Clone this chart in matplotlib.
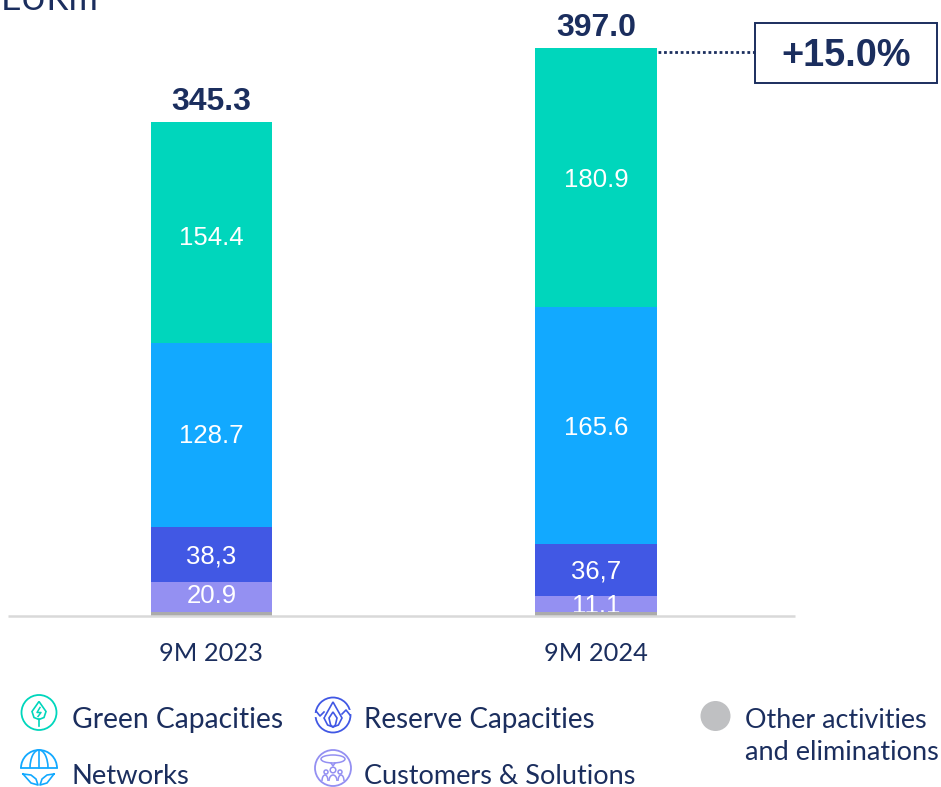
import matplotlib
matplotlib.use('Agg')
import matplotlib.pyplot as plt
from matplotlib.patches import Circle, Rectangle, Polygon, Arc, Ellipse

# data
periods = ['9M 2023', '9M 2024']
other = [3.0, 2.7]
customers = [20.9, 11.1]
reserve = [38.3, 36.7]
networks = [128.7, 165.6]
green = [154.4, 180.9]
totals = [345.3, 397.0]

customers_labels = ['20.9', '11.1']
reserve_labels = ['38,3', '36,7']
networks_labels = ['128.7', '165.6']
green_labels = ['154.4', '180.9']
growth_label = '+15.0%'

NAVY = '#1b2e5e'
GREEN = '#00d6bc'
BLUE = '#12a9ff'
DARK_BLUE = '#4158e4'
LAVENDER = '#9490f2'
GREY = '#ababab'
W, H = 941, 787
BAR_FONT = 'Liberation Sans'
LEGEND_FONT = 'Lato'

fig = plt.figure(figsize=(W / 100, H / 100), dpi=100)

# main axes, placed in pixels so the baseline sits at y=616
ax = fig.add_axes([8 / W, (H - 616) / H, 787 / W, 616 / H])
ax.set_xlim(-0.529, 1.5176)
ax.set_ylim(0, 616 / 1.4307)
ax.patch.set_alpha(0)
x = [0, 1]
bar_w = 0.315

# stacked bars, bottom up
bottom = [0, 0]
segments = [(other, GREY, None), (customers, LAVENDER, customers_labels),
            (reserve, DARK_BLUE, reserve_labels), (networks, BLUE, networks_labels),
            (green, GREEN, green_labels)]
label_shift = {'20.9': 2.2, '154.4': -1.8, '11.1': 0.2, '38,3': 0.2, '128.7': 0.7, '36,7': 0.7}
for vals, col, labels in segments:
    # grey strip stays over the small labels, they get cut at its edge
    z = 5 if labels is None else 2
    ax.bar(x, vals, bar_w, bottom=bottom, color=col, zorder=z)
    if labels is not None:
        for i in x:
            mid = bottom[i] + vals[i] / 2
            ax.text(i, mid + label_shift.get(labels[i], 0), labels[i], color='white', ha='center',
                    va='center_baseline', fontsize=18.5, family=BAR_FONT, zorder=3)
    bottom = [b + v for b, v in zip(bottom, vals)]

for i in x:
    ax.text(i, totals[i] + 3.6, f'{totals[i]:.1f}', color=NAVY, ha='center', va='bottom',
            fontsize=23, fontweight='bold', family=BAR_FONT)

ax.spines[['top', 'left', 'right']].set_visible(False)
ax.spines['bottom'].set_color('#d9d9d9')
ax.spines['bottom'].set_linewidth(1.8)
ax.spines['bottom'].set_capstyle('butt')
ax.spines['bottom'].set_zorder(6)
ax.set_yticks([])
ax.set_xticks(x)
ax.set_xticklabels(periods, color=NAVY, fontsize=18.3, family=LEGEND_FONT)
ax.tick_params(axis='x', length=0, pad=18.5)

# overlay in pixel coords for the callout, legend and unit
ov = fig.add_axes([0, 0, 1, 1])
ov.set_xlim(0, W)
ov.set_ylim(H, 0)
ov.axis('off')
ov.patch.set_alpha(0)

ov.plot([658, 755], [52, 52], color=NAVY, lw=2, ls=(0, (1, 1)))
ov.add_patch(Rectangle((755.5, 22.5), 182, 60, fc='white', ec=NAVY, lw=1.4))
ov.text(846.5, 56.5, growth_label, color=NAVY, ha='center', va='center', fontsize=27.3,
        fontweight='bold', family=BAR_FONT)
# unit is cut by the top edge in the reference too
ov.text(1, 10, 'EURm', color=NAVY, ha='left', va='baseline', fontsize=25.5, family=LEGEND_FONT)


def ring(cx, cy, col, r=17.5):
    ov.add_patch(Circle((cx, cy), r, fc='white', ec=col, lw=1.3))


def icon_green(cx, cy):
    ring(cx, cy, GREEN)
    ov.add_patch(Polygon([(cx, cy - 11), (cx + 7, cy - 1), (cx + 5, cy + 5), (cx, cy + 7),
                          (cx - 5, cy + 5), (cx - 7, cy - 1)], fc='none', ec=GREEN, lw=1.2))
    ov.plot([cx, cx], [cy + 6, cy + 13], color=GREEN, lw=1.2)
    ov.plot([cx + 1, cx - 2, cx + 2, cx - 1], [cy - 5, cy, cy, cy + 4], color=GREEN, lw=1.1)


def icon_reserve(cx, cy):
    ring(cx, cy, DARK_BLUE)
    ov.plot([cx - 19, cx - 11], [cy, cy], color='white', lw=3)
    ov.plot([cx + 11, cx + 19], [cy - 3, cy - 3], color='white', lw=3)
    ov.plot([cx - 17, cx - 13, cx - 9], [cy - 4, cy + 1, cy - 3], color=DARK_BLUE, lw=1.2)
    ov.plot([cx + 17, cx + 13, cx + 9], [cy, cy - 5, cy - 1], color=DARK_BLUE, lw=1.2)
    for w, t in [(9, 13), (4, 3)]:
        ov.add_patch(Polygon([(cx, cy - t), (cx + w, cy + 3), (cx + w * 0.6, cy + 10), (cx, cy + 12),
                              (cx - w * 0.6, cy + 10), (cx - w, cy + 3)], fc='none', ec=DARK_BLUE, lw=1.2))


def icon_networks(cx, cy):
    ov.add_patch(Arc((cx, cy), 36, 36, theta1=180, theta2=360, ec=BLUE, lw=1.3))
    ov.add_patch(Arc((cx, cy), 18, 36, theta1=180, theta2=360, ec=BLUE, lw=1.2))
    ov.plot([cx, cx], [cy - 18, cy], color=BLUE, lw=1.2)
    ov.plot([cx - 18, cx + 18], [cy, cy], color=BLUE, lw=1.3)
    ov.plot([cx - 16, cx - 8, cx - 3, cx - 1, cx - 8, cx - 16],
            [cy + 6, cy + 7, cy + 11, cy + 17, cy + 15, cy + 6], color=BLUE, lw=1.2)
    ov.plot([cx + 15, cx + 8, cx + 3, cx + 1, cx + 8, cx + 15],
            [cy + 6, cy + 7, cy + 11, cy + 17, cy + 15, cy + 6], color=BLUE, lw=1.2)


def icon_customers(cx, cy):
    ring(cx, cy, LAVENDER, r=18)
    ov.add_patch(Ellipse((cx, cy - 9), 24, 8, fc='none', ec=LAVENDER, lw=1.1))
    ov.plot([cx - 2, cx, cx + 2], [cy - 5, cy - 2, cy - 5], color=LAVENDER, lw=1.1)
    for dx, dy, r in [(-7, 4, 2), (0, 2, 2.8), (7, 4, 2)]:
        ov.add_patch(Circle((cx + dx, cy + dy), r, fc='none', ec=LAVENDER, lw=1.1))
    for dx, w in [(-8, 6), (0, 8), (8, 6)]:
        ov.add_patch(Arc((cx + dx, cy + 13), w, 12, theta1=180, theta2=360, ec=LAVENDER, lw=1.1))


icon_green(39, 712.5)
icon_reserve(333, 715)
icon_networks(39, 768)
icon_customers(333, 768)
ov.add_patch(Circle((715.5, 716), 15, fc='#bfc0c2', ec='none'))

legend_items = [('Green Capacities', 72, 720, 20.3), ('Networks', 72, 776, 19.7),
                ('Reserve Capacities', 364, 720, 20.0), ('Customers & Solutions', 364, 776, 19.5),
                ('Other activities', 745, 720, 19.4), ('and eliminations', 745, 752, 19.5)]
for txt, tx, ty, fs in legend_items:
    ov.text(tx, ty, txt, color=NAVY, ha='left', va='center', fontsize=fs, family=LEGEND_FONT)

fig.savefig('out.png', dpi=100)
